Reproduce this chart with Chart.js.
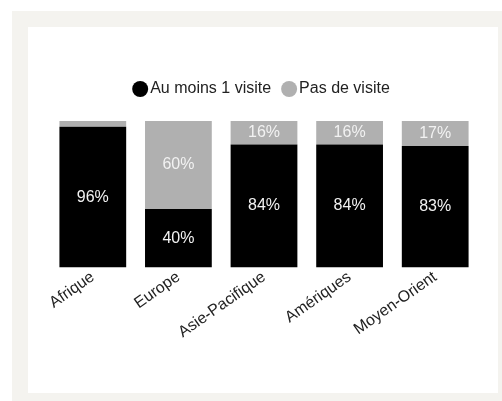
<!DOCTYPE html>
<html>
<head>
<meta charset="utf-8">
<script src="https://cdn.jsdelivr.net/npm/chart.js@4"></script>
<style>
  html, body { margin: 0; padding: 0; background: #fff; }
  body { width: 502px; height: 401px; position: relative; overflow: hidden; }
  #frame { position: absolute; left: 12px; top: 11px; width: 490px; height: 390px; background: #f4f3ef; }
  #panel { position: absolute; left: 28px; top: 27px; width: 470px; height: 366px; background: #fff; }
  #chart { position: absolute; left: 0; top: 0; }
</style>
</head>
<body>
<div id="frame"></div>
<div id="panel"></div>
<canvas id="chart" width="502" height="401"></canvas>
<script>
const regions = ['Afrique', 'Europe', 'Asie-Pacifique', 'Amériques', 'Moyen-Orient'];
const auMoinsUneVisite = [96, 40, 84, 84, 83];
const pasDeVisite = [4, 60, 16, 16, 17];

Chart.defaults.font.family = "'Liberation Sans', Arial, sans-serif";
Chart.defaults.font.size = 16;

// a bit more room between the legend and the bars
const legendGap = {
    id: 'legendGap',
    beforeInit(chart) {
        const fit = chart.legend.fit;
        chart.legend.fit = function() {
            fit.bind(chart.legend)();
            this.height += 14;
        };
    }
};

// percentage written in the middle of each segment (skipped when too thin)
const segmentLabels = {
    id: 'segmentLabels',
    afterDatasetsDraw(chart) {
        const ctx = chart.ctx;
        ctx.save();
        ctx.font = "16px 'Liberation Sans', Arial, sans-serif";
        ctx.fillStyle = '#f2f2f2';
        ctx.textAlign = 'center';
        ctx.textBaseline = 'middle';
        chart.data.datasets.forEach((ds, di) => {
            chart.getDatasetMeta(di).data.forEach((bar, i) => {
                const v = ds.data[i];
                if (v < 10) return;
                ctx.fillText(v + '%', bar.x, (bar.y + bar.base) / 2);
            });
        });
        ctx.restore();
    }
};

new Chart(document.getElementById('chart'), {
    type: 'bar',
    data: {
        labels: regions,
        datasets: [
            { label: 'Au moins 1 visite', data: auMoinsUneVisite, backgroundColor: '#000000' },
            { label: 'Pas de visite', data: pasDeVisite, backgroundColor: '#b0b0b0' }
        ]
    },
    options: {
        responsive: false,
        animation: false,
        barPercentage: 0.78,
        categoryPercentage: 1,
        layout: { padding: { left: 50, right: 24, top: 65, bottom: 59 } },
        plugins: {
            legend: {
                labels: {
                    usePointStyle: true,
                    pointStyle: 'circle',
                    boxWidth: 4,
                    boxHeight: 11.3,
                    padding: 16,
                    color: '#222'
                }
            },
            tooltip: { enabled: false }
        },
        scales: {
            x: {
                stacked: true,
                grid: { display: false, drawTicks: false },
                border: { display: false },
                ticks: { color: '#222', padding: 0, minRotation: 35, maxRotation: 35, autoSkip: false }
            },
            y: {
                stacked: true,
                display: false,
                min: 0,
                max: 100
            }
        }
    },
    plugins: [legendGap, segmentLabels]
});
</script>
</body>
</html>
